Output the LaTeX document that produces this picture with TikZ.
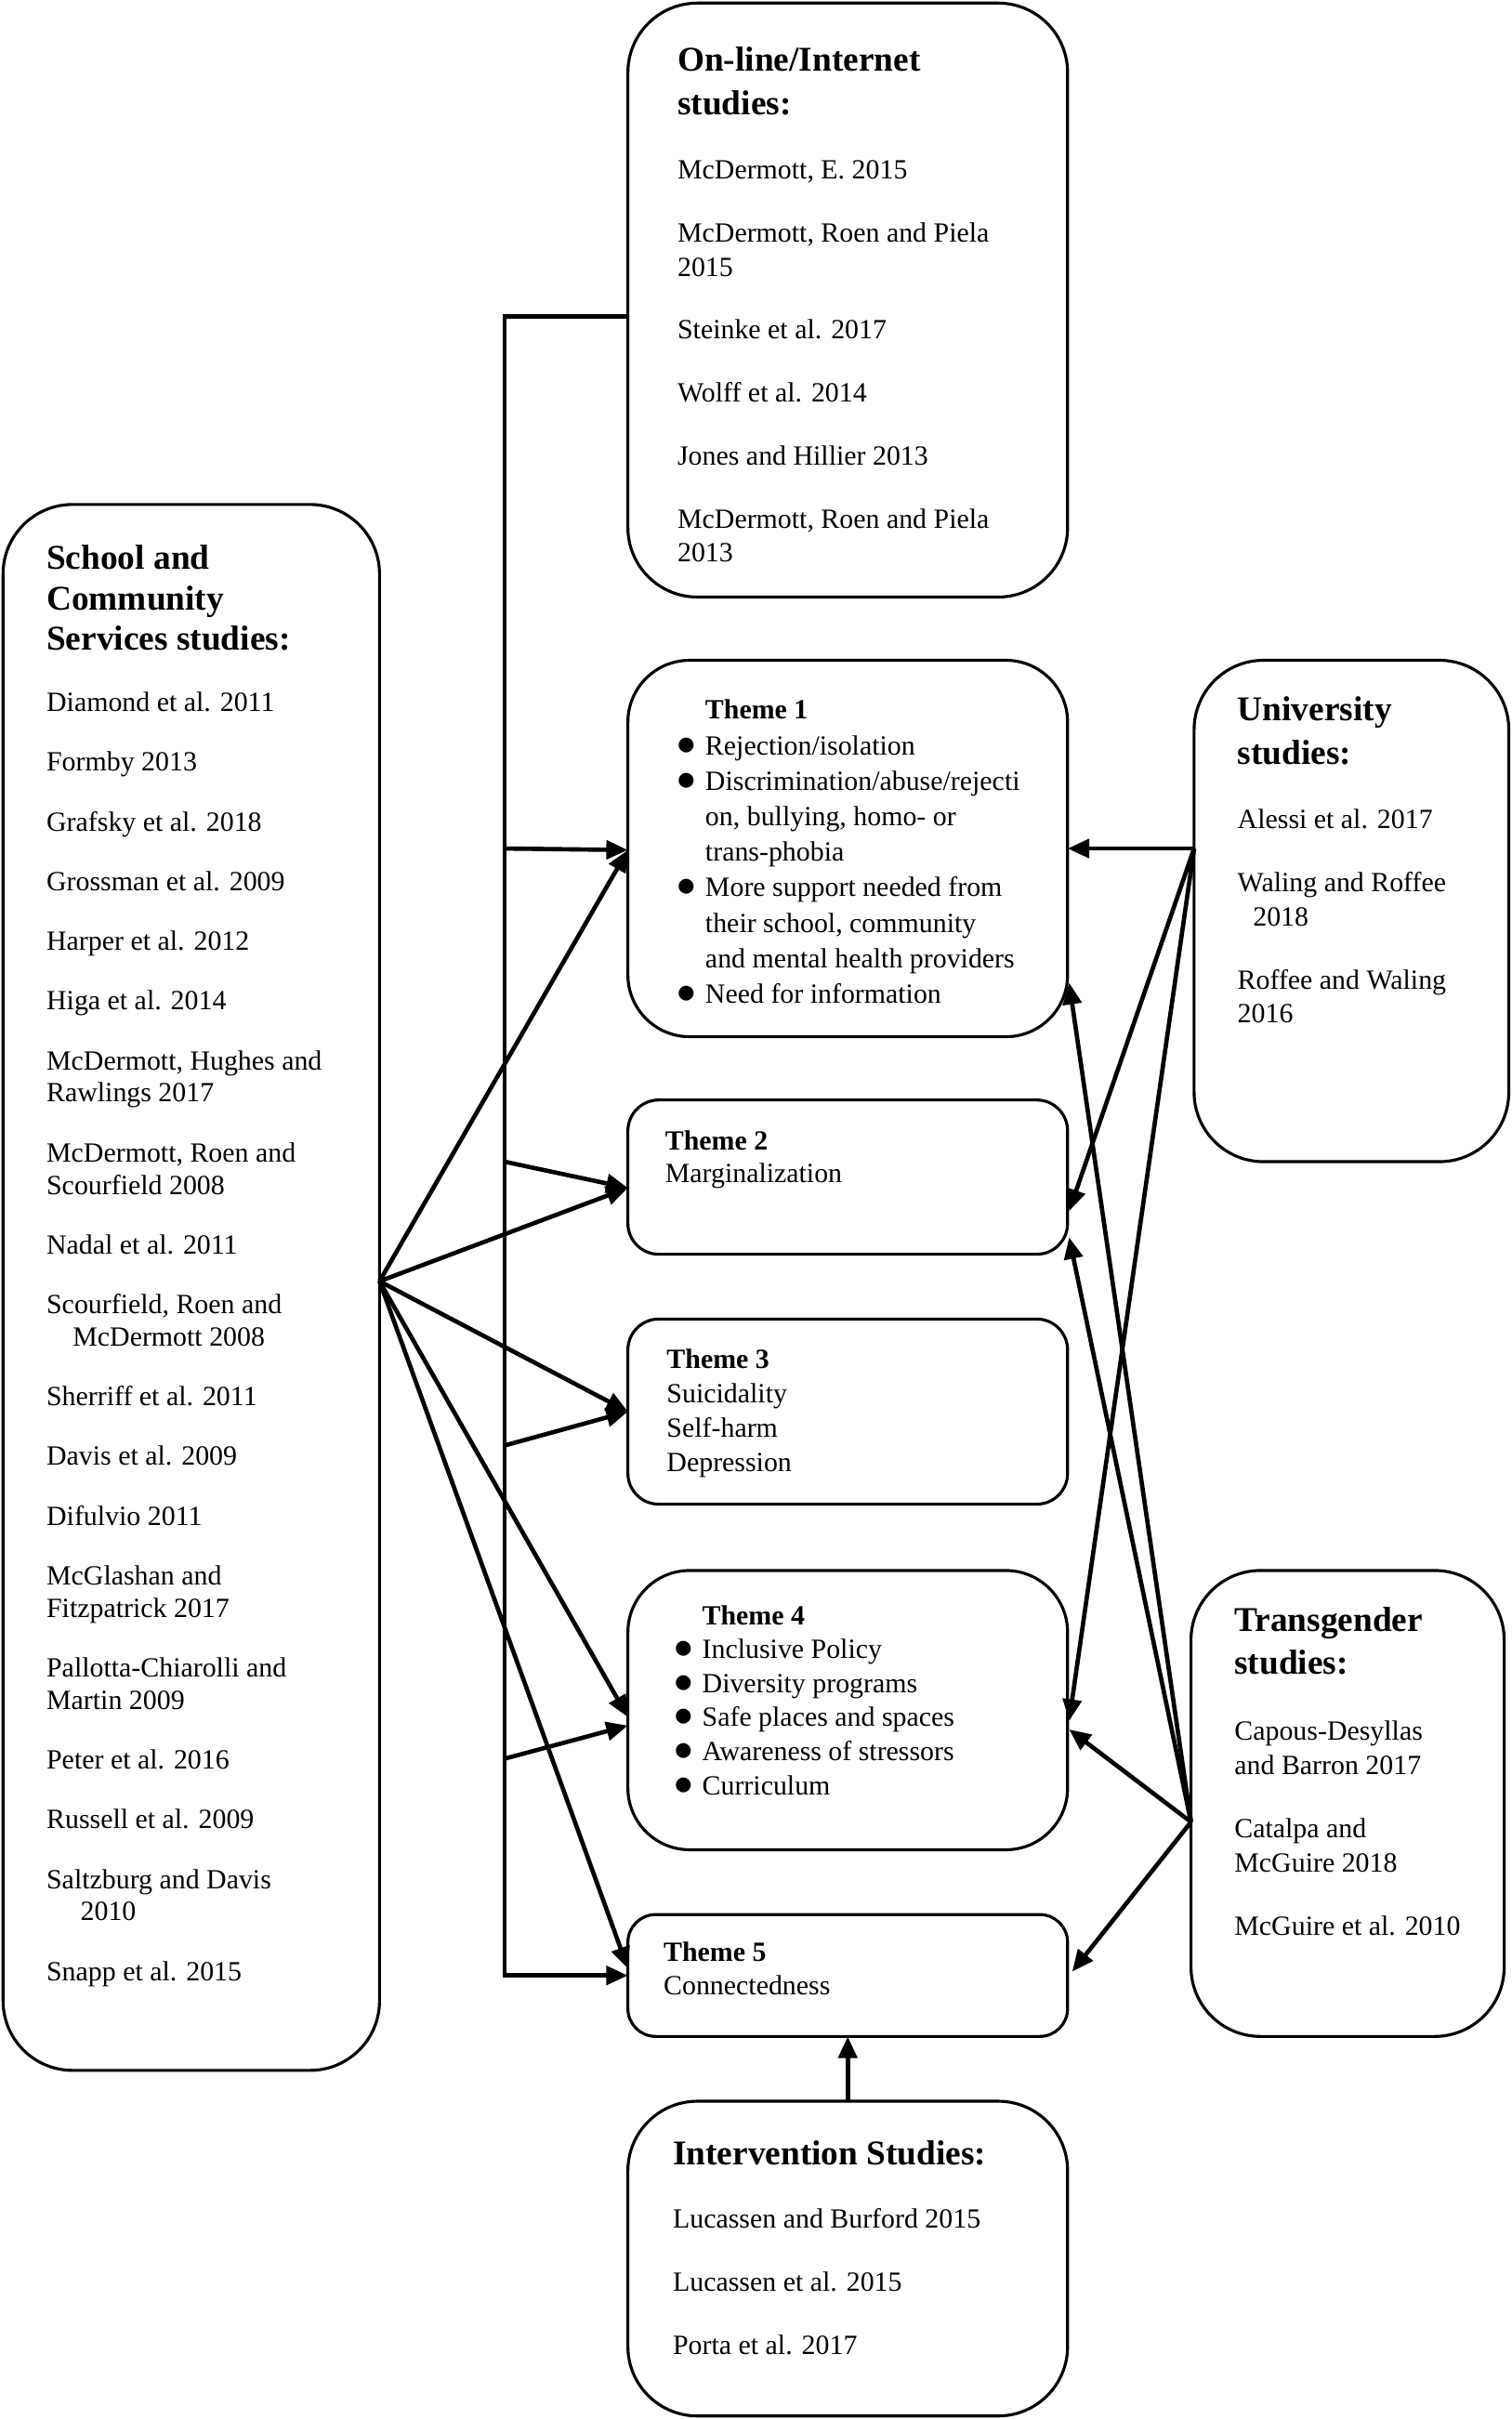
\documentclass[tikz,border=0pt]{standalone}
\usepackage{fontspec}
\setmainfont{Liberation Serif}
\usetikzlibrary{arrows.meta,calc}
\newcommand{\tbul}{\llap{{\fontsize{23}{0}\selectfont$\bullet$}\hspace{6pt}}}
\begin{document}
\begin{tikzpicture}[x=1pt,y=-1pt,
  box/.style={draw,line width=1.9pt,inner sep=0pt,outer sep=0pt},
  conn/.style={line width=2.8pt},
  arr/.style={conn,-{Triangle[length=14pt,width=12pt]}},
  head/.style={anchor=north west,inner sep=0pt,align=left,font=\fontsize{22.5}{28}\selectfont\bfseries},
  body/.style={anchor=north west,inner sep=0pt,align=left,font=\fontsize{18}{22}\selectfont},
]
\useasboundingbox (0,0) rectangle (980,1568);

% boxes
\node[box,minimum width=285pt,minimum height=385pt,rounded corners=45pt] (online) at (549.5,194.5) {};
\node[box,minimum width=244pt,minimum height=1015pt,rounded corners=45pt] (school) at (124,834.5) {};
\node[box,minimum width=285pt,minimum height=244pt,rounded corners=40pt] (t1) at (549.5,550) {};
\node[box,minimum width=285pt,minimum height=100pt,rounded corners=20pt] (t2) at (549.5,763) {};
\node[box,minimum width=285pt,minimum height=120pt,rounded corners=20pt] (t3) at (549.5,915) {};
\node[box,minimum width=285pt,minimum height=181pt,rounded corners=40pt] (t4) at (549.5,1108.5) {};
\node[box,minimum width=285pt,minimum height=79pt,rounded corners=18pt] (t5) at (549.5,1280.5) {};
\node[box,minimum width=204pt,minimum height=325pt,rounded corners=45pt] (univ) at (876,590.5) {};
\node[box,minimum width=203pt,minimum height=302pt,rounded corners=45pt] (trans) at (873.5,1169) {};
\node[box,minimum width=285pt,minimum height=204pt,rounded corners=45pt] (interv) at (549.5,1464) {};

% texts
\node[head] (onh) at (439,26.4) {\strut On-line/Internet\\studies:};
\node[body] (onb) at (439,100.6) {\strut McDermott, E. 2015\\[19pt]McDermott, Roen and Piela\\2015\\[18.5pt]Steinke et al. 2017\\[19pt]Wolff et al. 2014\\[18.5pt]Jones and Hillier 2013\\[19pt]McDermott, Roen and Piela\\2013};

\node[head,font=\fontsize{22.5}{26}\selectfont\bfseries] (sch) at (30,350.8) {\strut School and\\Community\\Services studies:};
\node[body,font=\fontsize{18}{21}\selectfont] (scb) at (30,446.3) {\strut Diamond et al. 2011\\[17.7pt]Formby 2013\\[17.7pt]Grafsky et al. 2018\\[17.7pt]Grossman et al. 2009\\[17.7pt]Harper et al. 2012\\[17.7pt]Higa et al. 2014\\[17.7pt]McDermott, Hughes and\\Rawlings 2017\\[17.7pt]McDermott, Roen and\\Scourfield 2008\\[17.7pt]Nadal et al. 2011\\[17.7pt]Scourfield, Roen and\\\hspace*{17pt}McDermott 2008\\[17.7pt]Sherriff et al. 2011\\[17.7pt]Davis et al. 2009\\[17.7pt]Difulvio 2011\\[17.7pt]McGlashan and\\Fitzpatrick 2017\\[17.7pt]Pallotta-Chiarolli and\\Martin 2009\\[17.7pt]Peter et al. 2016\\[17.7pt]Russell et al. 2009\\[17.7pt]Saltzburg and Davis\\\hspace*{22pt}2010\\[17.7pt]Snapp et al. 2015};

\node[body,font=\fontsize{18}{23}\selectfont] (t1t) at (457,449.9) {\strut\textbf{Theme 1}\\\tbul Rejection/isolation\\\tbul Discrimination/abuse/rejecti\\on, bullying, homo- or\\trans-phobia\\\tbul More support needed from\\their school, community\\and mental health providers\\\tbul Need for information};
\node[body,font=\fontsize{18}{21.5}\selectfont] (t2t) at (431,730) {\strut\textbf{Theme 2}\\Marginalization};
\node[body,font=\fontsize{18}{22.3}\selectfont] (t3t) at (432,871.4) {\strut\textbf{Theme 3}\\Suicidality\\Self-harm\\Depression};
\node[body] (t4t) at (455,1037.6) {\strut\textbf{Theme 4}\\\tbul Inclusive Policy\\\tbul Diversity programs\\\tbul Safe places and spaces\\\tbul Awareness of stressors\\\tbul Curriculum};
\node[body] (t5t) at (430,1255.6) {\strut\textbf{Theme 5}\\Connectedness};

\node[head] (unh) at (802,447.4) {\strut University\\studies:};
\node[body] (unb) at (802,521.6) {\strut Alessi et al. 2017\\[19pt]Waling and Roffee\\\hspace*{10pt}2018\\[19pt]Roffee and Waling\\2016};

\node[head] (trh) at (800,1037.4) {\strut Transgender\\studies:};
\node[body] (trb) at (800,1112.6) {\strut Capous-Desyllas\\and Barron 2017\\[19pt]Catalpa and\\McGuire 2018\\[19pt]McGuire et al. 2010};

\node[head] (inh) at (436,1383.4) {\strut Intervention Studies:};
\node[body] (inb) at (436,1428.6) {\strut Lucassen and Burford 2015\\[19pt]Lucassen et al. 2015\\[19pt]Porta et al. 2017};

% connectors from school
\coordinate (S) at ($(school.east)+(0,-4)$);
\draw[arr] (S) -- ($(t1.west)+(0,1)$);
\draw[arr] (S) -- ($(t2.west)+(0,7)$);
\draw[arr] (S) -- (t3.west);
\draw[arr] (S) -- ($(t4.west)+(0,4.5)$);
\draw[arr] (S) -- ($(t5.west)+(0,-4.5)$);

% spine from online box
\draw[arr] ($(online.west)+(0,10.5)$) -| ($(t5.west)+(-80,0)$) -- (t5.west);
\draw[arr] ($(t1.west)+(-80,0)$) -- ($(t1.west)+(0,1)$);
\draw[arr] ($(t2.west)+(-80,-10)$) -- ($(t2.west)+(0,7)$);
\draw[arr] ($(t3.west)+(-80,22)$) -- (t3.west);
\draw[arr] ($(t4.west)+(-80,31.5)$) -- ($(t4.west)+(0,10)$);

% university
\coordinate (U) at ($(univ.west)+(0,-40.5)$);
\draw[arr] (U) -- (t1.east);
\draw[arr] (U) -- ($(t2.east)+(1,22)$);
\draw[arr] (U) -- ($(t4.east)+(1,7)$);

% transgender
\coordinate (T) at ($(trans.west)+(0,12)$);
\draw[arr] (T) -- ($(t1.east)+(1,87)$);
\draw[arr] (T) -- ($(t2.east)+(1,39)$);
\draw[arr] (T) -- ($(t4.east)+(1,12.5)$);
\draw[arr] (T) -- ($(t5.east)+(3,-2.5)$);

% intervention
\draw[arr] (interv.north) -- (t5.south);
\end{tikzpicture}
\end{document}
